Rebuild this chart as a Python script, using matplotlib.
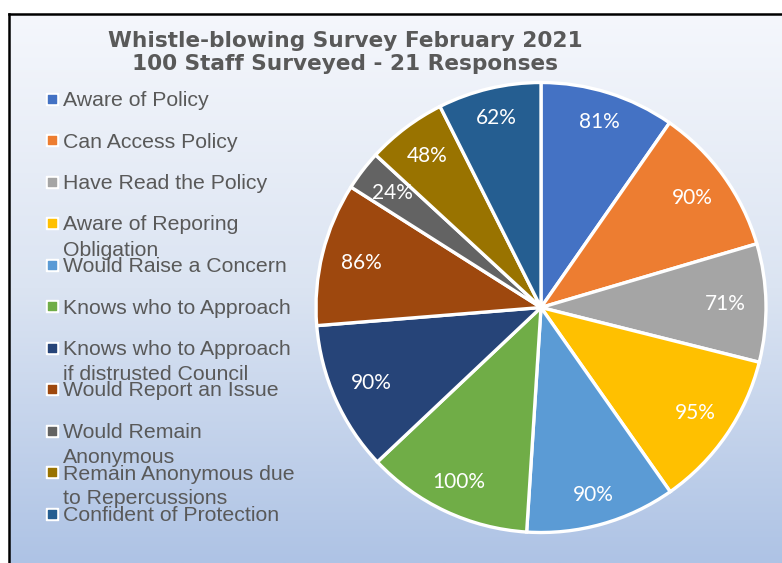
import numpy as np
import matplotlib
matplotlib.use("Agg")
import matplotlib.pyplot as plt
from matplotlib.colors import LinearSegmentedColormap

# data
categories = [
    "Aware of Policy",
    "Can Access Policy",
    "Have Read the Policy",
    "Aware of Reporing\nObligation",
    "Would Raise a Concern",
    "Knows who to Approach",
    "Knows who to Approach\nif distrusted Council",
    "Would Report an Issue",
    "Would Remain\nAnonymous",
    "Remain Anonymous due\nto Repercussions",
    "Confident of Protection",
]
percent = [81, 90, 71, 95, 90, 100, 90, 86, 24, 48, 62]
colors = ["#4472C4", "#ED7D31", "#A5A5A5", "#FFC000", "#5B9BD5", "#70AD47",
          "#264478", "#9E480E", "#636363", "#997300", "#255E91"]
title_lines = ["Whistle-blowing Survey February 2021",
               "100 Staff Surveyed - 21 Responses"]

W, H = 782, 563
fig = plt.figure(figsize=(W / 100, H / 100), dpi=100)
fig.patch.set_facecolor("white")

# background axes in pixel coordinates
bg = fig.add_axes([0, 0, 1, 1])
bg.set_xlim(0, W)
bg.set_ylim(H, 0)
bg.axis("off")

grad = LinearSegmentedColormap.from_list("bg", ["#f5f7fc", "#dbe4f2", "#aec3e5"])
bg.imshow(np.linspace(0, 1, 256).reshape(-1, 1), cmap=grad, aspect="auto",
          extent=[9, W, H, 14], zorder=0)
bg.plot([9, W], [14, 14], color="black", lw=1.8, zorder=1)
bg.plot([9, 9], [14, H], color="black", lw=1.8, zorder=1)

# title
for i, line in enumerate(title_lines):
    bg.text(345, 47 + 23 * i, line, ha="center", va="baseline",
            fontsize=15.6, fontweight="bold", color="#595959",
            family="DejaVu Sans", zorder=3)

# legend (drawn by hand to keep the overlapping wrapped rows)
for i, (lab, c) in enumerate(zip(categories, colors)):
    base = 106 + 41.5 * i
    bg.scatter(52, base - 7.5, s=80, marker="s", color="white", zorder=3)
    bg.scatter(52, base - 7.5, s=26, marker="s", color=c, zorder=4)
    for j, part in enumerate(lab.split("\n")):
        bg.text(63, base + 25 * j, part, ha="left", va="baseline",
                fontsize=15.3, color="#595959", family="Liberation Sans", zorder=3)

# pie
cx, cy, R = 541, 307.5, 225
pax = fig.add_axes([(cx - R) / W, 1 - (cy + R) / H, 2 * R / W, 2 * R / H])
wedges, _ = pax.pie(percent, colors=colors, startangle=90, counterclock=False,
                    wedgeprops=dict(edgecolor="white", linewidth=2.4))
pax.set_xlim(-1, 1)
pax.set_ylim(-1, 1)
pax.set_facecolor("none")

for w, p in zip(wedges, percent):
    ang = np.deg2rad((w.theta1 + w.theta2) / 2)
    d = 0.88 - 0.06 * abs(np.cos(ang))
    pax.text(d * np.cos(ang), d * np.sin(ang), f"{p}%", ha="center", va="center",
             fontsize=15, color="white", family="Lato")

fig.savefig("out.png", dpi=100)
